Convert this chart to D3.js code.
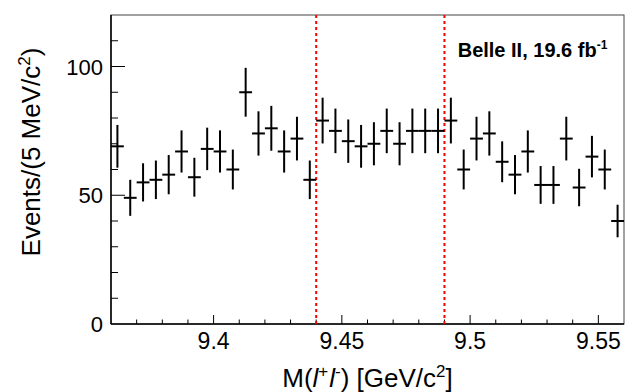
<!DOCTYPE html>
<html>
<head>
<meta charset="utf-8">
<script src="https://cdn.jsdelivr.net/npm/d3@7"></script>
<style>
  html, body { margin: 0; padding: 0; background: #fff; }
  svg text { font-family: "Liberation Sans", Arial, Helvetica, sans-serif; fill: #000; }
</style>
</head>
<body>
<div id="chart"></div>
<script>
// bin lower edges of the 5 MeV/c^2 histogram, 9.36 .. 9.555
const binStart = 9.36;
const binWidth = 0.005;
const counts = [
  69, 49, 55, 56, 58, 67, 57, 68, 67, 60,
  90, 74, 76, 67, 72, 56, 79, 75, 71, 69,
  70, 75, 70, 75, 75, 75, 79, 60, 72, 74,
  63, 58, 67, 54, 54, 72, 53, 65, 60, 40
];
const signalWindow = [9.44, 9.49];
const xTickLabels = [9.4, 9.45, 9.5, 9.55];
const yTickLabels = [0, 50, 100];

const W = 632, H = 392;
const margin = { top: 15, right: 8, bottom: 68, left: 111 };
const iw = W - margin.left - margin.right;
const ih = H - margin.top - margin.bottom;

const svg = d3.select('#chart').append('svg')
  .attr('width', W)
  .attr('height', H);

const g = svg.append('g')
  .attr('transform', 'translate(' + margin.left + ',' + margin.top + ')');

const x = d3.scaleLinear().domain([9.36, 9.56]).range([0, iw]);
const y = d3.scaleLinear().domain([0, 120]).range([ih, 0]);

const bins = counts.map((c, i) => ({
  lo: binStart + i * binWidth,
  hi: binStart + (i + 1) * binWidth,
  n: c,
  err: Math.sqrt(c)
}));

// frame (top/right thin)
g.append('rect')
  .attr('x', 0).attr('y', 0)
  .attr('width', iw).attr('height', ih)
  .attr('fill', 'none')
  .attr('stroke', '#444')
  .attr('stroke-width', 1);

// minor / major ticks, ROOT style (inside)
const xMinor = d3.range(37, 56).map(v => v / 100 + 9.0);
g.append('g').selectAll('line')
  .data(xMinor)
  .enter().append('line')
  .attr('x1', d => x(d)).attr('x2', d => x(d))
  .attr('y1', ih)
  .attr('y2', d => ih - (xTickLabels.some(t => Math.abs(t - d) < 1e-6) ? 9 : 4.5))
  .attr('stroke', '#000').attr('stroke-width', 1);

const yMinor = d3.range(10, 120, 10);
g.append('g').selectAll('line')
  .data(yMinor)
  .enter().append('line')
  .attr('y1', d => y(d)).attr('y2', d => y(d))
  .attr('x1', 0)
  .attr('x2', d => (d % 50 === 0 ? 14 : 7))
  .attr('stroke', '#000').attr('stroke-width', 1);

// axis lines
g.append('line').attr('x1', 0).attr('x2', iw).attr('y1', ih).attr('y2', ih)
  .attr('stroke', '#000').attr('stroke-width', 1.5);
g.append('line').attr('x1', 0).attr('x2', 0).attr('y1', 0).attr('y2', ih)
  .attr('stroke', '#000').attr('stroke-width', 1.5);

// tick labels
g.append('g').selectAll('text')
  .data(xTickLabels)
  .enter().append('text')
  .attr('x', d => x(d))
  .attr('y', ih + 25)
  .attr('text-anchor', 'middle')
  .style('font-size', '23px')
  .text(d => d3.format('')(d));

g.append('g').selectAll('text')
  .data(yTickLabels)
  .enter().append('text')
  .attr('x', -8)
  .attr('y', d => y(d) + 8)
  .attr('text-anchor', 'end')
  .style('font-size', '22px')
  .text(d => d);

// signal window lines
g.append('g').selectAll('line')
  .data(signalWindow)
  .enter().append('line')
  .attr('x1', d => x(d)).attr('x2', d => x(d))
  .attr('y1', 0).attr('y2', ih)
  .attr('stroke', '#ff0000')
  .attr('stroke-width', 2)
  .attr('stroke-dasharray', '3,3');

// data points with poisson error bars
const pts = g.append('g').attr('class', 'points');
pts.selectAll('line.v')
  .data(bins)
  .enter().append('line')
  .attr('class', 'v')
  .attr('x1', d => x((d.lo + d.hi) / 2)).attr('x2', d => x((d.lo + d.hi) / 2))
  .attr('y1', d => y(d.n - d.err)).attr('y2', d => y(d.n + d.err))
  .attr('stroke', '#000').attr('stroke-width', 2);
pts.selectAll('line.h')
  .data(bins)
  .enter().append('line')
  .attr('class', 'h')
  .attr('x1', d => x(d.lo)).attr('x2', d => x(d.hi))
  .attr('y1', d => y(d.n)).attr('y2', d => y(d.n))
  .attr('stroke', '#000').attr('stroke-width', 2);

// label
const lab = g.append('text')
  .attr('x', x(9.5535))
  .attr('y', 42)
  .attr('text-anchor', 'end')
  .style('font-size', '20px')
  .style('font-weight', 'bold');
lab.append('tspan').text('Belle II, 19.6 fb');
lab.append('tspan').attr('dy', -8).style('font-size', '12px').text('-1');

// axis titles
const xt = svg.append('text')
  .attr('x', margin.left + iw / 2)
  .attr('y', 387)
  .attr('text-anchor', 'middle')
  .style('font-size', '26px');
xt.append('tspan').text('M(');
xt.append('tspan').style('font-style', 'italic').text('l');
xt.append('tspan').attr('dy', -10).style('font-size', '17px').text('+');
xt.append('tspan').attr('dy', 10).attr('dx', 1).style('font-style', 'italic').text('l');
xt.append('tspan').attr('dy', -10).style('font-size', '17px').text('-');
xt.append('tspan').attr('dy', 10).text(') [GeV/c');
xt.append('tspan').attr('dy', -10).style('font-size', '17px').text('2');
xt.append('tspan').attr('dy', 10).text(']');

const yt = svg.append('text')
  .attr('transform', 'translate(40,152) rotate(-90)')
  .attr('text-anchor', 'middle')
  .style('font-size', '26px');
yt.append('tspan').text('Events/(5 MeV/c');
yt.append('tspan').attr('dy', -10).style('font-size', '17px').text('2');
yt.append('tspan').attr('dy', 10).text(')');
</script>
</body>
</html>
